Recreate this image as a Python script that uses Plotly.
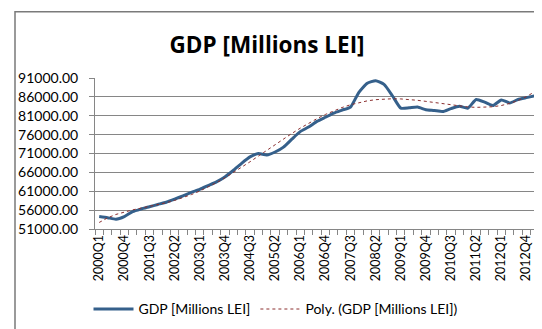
import numpy as np
import plotly.graph_objects as go

quarters = [f"{y}Q{q}" for y in range(2000, 2014) for q in range(1, 5)][:53]

gdp = [54300, 54000, 53600, 54300, 55600, 56300, 56900, 57500, 58100, 58900,
       59800, 60700, 61500, 62500, 63500, 64800, 66500, 68400, 70100, 71000,
       70600, 71400, 72700, 74800, 76800, 78000, 79500, 80600, 81700, 82500,
       83300, 87200, 89600, 90300, 89300, 86300, 83000, 83100, 83300, 82600,
       82400, 82100, 82900, 83500, 83000, 85300, 84600, 83700, 85200, 84400,
       85300, 85800, 86300]

y_ticks = [51000, 56000, 61000, 66000, 71000, 76000, 81000, 86000, 91000]

idx = np.arange(1, len(gdp) + 1)
coef = np.polynomial.polynomial.Polynomial.fit(idx, gdp, 6)
trend = coef(idx)

label_idx = list(range(1, len(quarters) + 1, 3))

fig = go.Figure()
fig.add_trace(go.Scatter(x=idx, y=gdp, mode="lines", name="GDP [Millions LEI]",
                         line=dict(color="#35608b", width=3, shape="spline", smoothing=0.5)))
fig.add_trace(go.Scatter(x=idx, y=trend, mode="lines", name="Poly. (GDP [Millions LEI])",
                         line=dict(color="#8b2f2f", width=1, dash="dot")))

W, H = 542, 329
L, R, T, B = 87, 11, 70, 105
pw, ph = W - L - R, H - T - B

def px_x(p):
    return (p - L) / pw

def px_y(p):
    return (H - B - p) / ph

fig.update_layout(
    width=W, height=H,
    margin=dict(l=L, r=R, t=T, b=B, pad=0),
    paper_bgcolor="white", plot_bgcolor="white",
    font=dict(family="Lato, Liberation Sans, sans-serif", color="#000000", size=12),
    title=dict(text="<b>GDP [Millions LEI]</b>", x=0.478, xanchor="center", xref="container",
               y=1 - 37 / H, yanchor="middle", font=dict(size=22.5, family="Open Sans, sans-serif")),
    showlegend=True,
    legend=dict(orientation="h", x=px_x(268), xanchor="center", y=px_y(306), yanchor="middle",
                font=dict(size=14), itemwidth=40, bgcolor="rgba(0,0,0,0)"),
    shapes=[dict(type="rect", xref="paper", yref="paper",
                 x0=px_x(7), x1=px_x(538), y0=px_y(327), y1=px_y(2.5),
                 line=dict(color="#7a7a7a", width=1.5), fillcolor="rgba(0,0,0,0)", layer="above")],
)

fig.update_xaxes(
    range=[0.5, len(gdp) + 0.5],
    tickmode="array", tickvals=label_idx, ticktext=[quarters[i - 1] for i in label_idx],
    tickangle=-90, ticks="", showgrid=False, zeroline=False,
    showline=True, linecolor="#868686", linewidth=1,
    tickfont=dict(size=12.5, family="Lato, sans-serif"),
    minor=dict(tickmode="linear", tick0=0.5, dtick=1, ticks="outside", ticklen=5,
               tickcolor="#868686", showgrid=False),
)
fig.update_yaxes(
    range=[51000, 91000], tickmode="array", tickvals=y_ticks, tickformat=".2f",
    showgrid=True, gridcolor="#868686", gridwidth=1, zeroline=False,
    showline=True, linecolor="#868686", linewidth=1,
    ticks="outside", ticklen=5, tickcolor="#868686", ticklabelstandoff=8,
    tickfont=dict(size=14, family="Lato, sans-serif"),
)

fig.write_html("out.html")
